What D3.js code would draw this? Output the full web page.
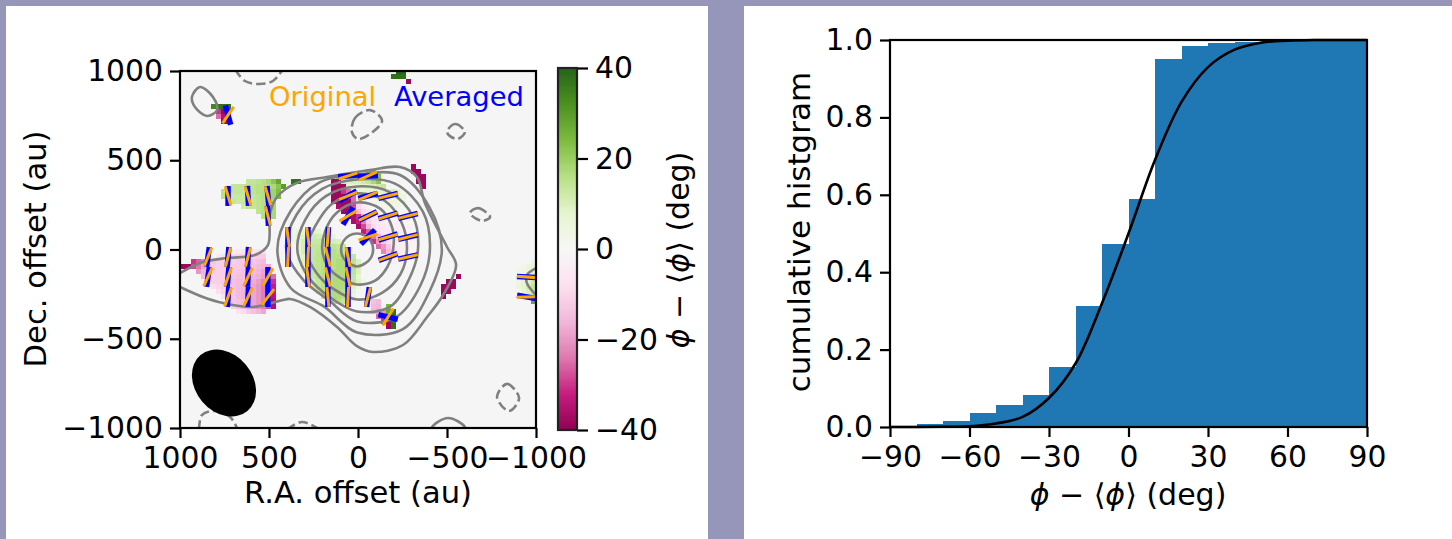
<!DOCTYPE html>
<html><head><meta charset="utf-8">
<script src="https://cdn.jsdelivr.net/npm/d3@7"></script>
<style>html,body{margin:0;padding:0;background:#fff;overflow:hidden}svg{display:block}text{font-family:"DejaVu Sans";fill:#000}</style>
</head><body><svg id="c" width="1452" height="539"></svg>
<script>
// ---- data ----
const piyg = ["#8e0152","#c51b7d","#de77ae","#f1b6da","#fde0ef","#f7f7f7","#e6f5d0","#b8e186","#7fbc41","#4d9221","#276419"];
const mapTicks = [1000,500,0,-500,-1000];
const barTicks = [40,20,0,-20,-40];
const histXTicks = [-90,-60,-30,0,30,60,90];
const histYTicks = [0,0.2,0.4,0.6,0.8,1.0];
// heat rows: [grid row, first grid column, deviation in degrees]
const heatRows = [
[0,43,[40,40]],[1,42,[38,38,38]],[2,45,[-38]],
[7,6,[34,38,38,38]],[8,7,[-30,-38,-38]],[9,7,[-25,-35,-38]],[10,8,[-38,-38]],
[22,13,[14,14,15,16,18,22,28]],[22,22,[38,38]],
[23,10,[14,14,14,15,15,16,16,17,18,22,30]],
[24,8,[16,14,14,14,14,14,15,16,16,17,19,24]],
[25,8,[16,14,13,13,13,13,14,15,16,17,19,24]],
[26,10,[14,13,13,14,14,15,16,17,18]],
[27,12,[12,14,14,15,16,17,18]],[28,15,[15,16,17,18]],[29,16,[16,17,18]],
[32,22,[4,7,8,9,9,8]],[33,22,[5,8,9,11,12,11,9,8,6]],[34,22,[5,8,11,12,13,13,13,12,11,10]],
[35,23,[7,11,13,14,14,14,14,15,14,13]],[36,23,[7,11,13,14,15,15,15,16,15,14]],
[37,23,[5,9,12,14,15,16,16,16,16,16,15,14]],[38,23,[5,9,12,14,15,16,16,16,17,17,16,15,10]],
[39,23,[4,8,12,14,15,16,16,16,17,17,17,16,11]],[40,24,[8,12,14,15,16,17,17,17,17,17,15,10]],
[41,25,[11,13,15,16,17,17,17,17,17,14,8]],[42,26,[12,14,16,17,17,17,17,17,14,9,4]],
[43,26,[11,14,16,17,17,17,17,14,9,4]],[44,27,[13,15,17,17,17,16,12,7]],
[45,28,[14,16,17,17,16,10,5]],[46,29,[15,16,16,14,8]],
[36,10,[-5,-6,-6,-7,-7,-8,-8]],[37,7,[-5,-7,-9,-10,-10,-11,-11,-11,-12,-12]],
[38,2,[-30,-26,-22,-16,-13,-11,-11,-11,-11,-12,-12,-13,-13,-14,-15]],
[39,0,[-38,-38,-28,-24,-18,-15,-12,-11,-11,-11,-12,-12,-13,-13,-14,-15,-16,-17]],
[40,3,[-20,-16,-14,-12,-11,-11,-11,-12,-13,-14,-14,-15,-16,-18,-20]],
[41,4,[-15,-13,-11,-11,-11,-12,-13,-14,-14,-15,-16,-17,-19,-21,-25]],
[42,5,[-11,-11,-11,-12,-13,-14,-15,-15,-16,-17,-19,-22,-26,-30]],
[43,6,[-9,-10,-11,-13,-14,-15,-16,-17,-18,-20,-23,-26,-32]],
[44,7,[-8,-10,-12,-13,-15,-16,-17,-18,-20,-23,-26,-32]],
[45,8,[-8,-11,-13,-15,-16,-17,-18,-20,-23,-27,-34]],
[46,9,[-10,-13,-14,-15,-17,-18,-20,-23,-27,-35]],
[47,10,[-11,-13,-15,-17,-18,-20,-23,-27,-35]],
[48,11,[-7,-9,-12,-14,-16,-18]],
[20,37,[25,25]],[21,31,[18,18,18,18,18,20,20,22,24]],
[22,30,[-38,-38,12,10,10,10,12,14,18,22]],[23,30,[-38,-38,-38,8,7,7,8,9,10,12,14]],
[24,30,[-38,-38,-30,-25,7,6,6,7,8,8,9,10,10,8]],
[25,30,[-38,-38,-38,-30,-25,4,4,4,5,6,6,7,7,6,5]],
[26,30,[-38,-38,-38,-38,-25,-3,-2,2,3,4,4,5,5,4,3]],
[27,31,[-36,-38,-36,-28,-10,-5,-2,1,2,3,3,3,3,2,2]],
[28,32,[-38,-38,-28,-14,-9,-5,-3,-2,1,1,2,2,2,1,1]],
[29,33,[-38,-36,-30,-16,-9,-6,-4,-3,-2,-1,-1,1,1,1]],
[30,34,[-36,-32,-22,-11,-7,-5,-4,-3,-2,-2,-1,-1,1]],
[31,35,[-36,-28,-16,-9,-6,-5,-4,-3,-3,-2,-2,-1]],
[32,36,[-32,-26,-15,-8,-6,-5,-4,-3,-3,-2,-1]],
[33,37,[-30,-24,-16,-8,-5,-4,-4,-3,-2,-1]],
[34,38,[-30,-20,-13,-9,-5,-4,-3,-2,-1]],
[35,39,[-25,-20,-13,-7,-4,-3,-2,-1]],
[36,40,[-22,-15,-9,-5,-3,-2,-1]],[37,41,[-12,-8,-4,-2,-1]],[38,42,[-4,-2,-1]],
[46,38,[-14,-15]],[47,38,[-15,-16]],[47,41,[25]],[48,38,[-16,-18,-20,28,38]],
[49,39,[-25,-28,-38,38]],[50,40,[-30,-38,38]],[51,41,[-38,38]],
[19,46,[-38]],[20,46,[-38,-38]],[21,47,[-38,-38]],[22,47,[-38,-38]],[23,48,[-38]],
[41,55,[-38]],[42,53,[-38,-38]],[43,52,[-38,-38,-38]],[44,52,[-38,-38]],[45,52,[-38]],
[38,70,[5]],[39,68,[3,5,7]],[40,67,[3,4,6,9]],[41,66,[2,4,6,8,10]],[42,67,[4,7,9,12]],
[43,67,[5,8,11,14]],[44,68,[7,10,14]],[45,68,[6,10,16]],[46,70,[28]]
];
// polarisation segments: [R.A., Dec., averaged angle, original angle]
const vectors = [
[730,753,-15,34],
[730,300,0,-17],[618,300,-3,-17],[506,300,-5,-17],[506,188,-3,-15],
[843,-42,8,22],[730,-42,5,15],[618,-42,3,15],
[843,-154,8,25],[730,-154,5,20],[618,-154,3,25],[506,-154,0,30],
[730,-266,4,20],[618,-266,3,25],[506,-266,0,38],
[393,70,0,-8],[393,-42,0,3],[281,70,0,-8],[281,-42,0,3],[281,-154,0,-8],
[169,70,3,5],[169,-42,0,-14],[169,-154,0,-14],[169,-266,0,-6],
[56,-42,0,-12],[56,-154,0,-12],[56,-266,0,3],[-56,-266,8,15],
[-169,-378,104,32],
[56,412,85,72],[-56,412,87,66],
[56,300,60,68],[-56,300,76,67],[-169,300,76,76],
[56,188,30,59],[-56,188,65,64],[-169,188,74,72],[-281,188,76,76],
[-56,70,44,72],[-169,70,72,74],[-281,70,77,76],
[-169,-42,70,70],[-281,-42,78,77],
[-949,-154,93,94],[-949,-266,100,88]
];
// nested contours as radii (au) every 30 degrees round the peak
const contourAngles = [0,30,60,90,120,150,180,210,240,270,300,330];
const contourRadii = [
[90,90,90,90,90,90,90,90,90,95,90,90],
[202,230,263,263,235,207,196,190,185,196,202,196],
[280,291,314,314,291,269,286,263,258,280,280,280],
[342,364,370,353,347,336,336,314,308,347,370,336],
[409,426,426,392,392,392,398,347,325,403,437,409],
[476,470,482,420,431,431,448,431,370,465,515,470]
];
const outerContour = [[1000,-210],[871,-266],[758,-300],[590,-322],[421,-283],[382,-277],[270,-322],[118,-434],[6,-541],[-84,-574],[-253,-535],[-388,-378],[-478,-255],[-551,-87],[-500,14],[-376,260],[-331,406],[-236,462],[-67,445],[174,406],[343,373],[455,294],[494,204],[506,25],[579,-31],[736,-48],[871,-70],[1000,-132]];
const solidOpen = [
[[-416,-1030],[-416,-995],[-506,-944],[-601,-995],[-601,-1030]],
[[-1000,-104],[-949,-143],[-949,-188],[-1000,-255]]
];
const solidClosed = [[[933,854],[888,910],[815,854],[792,781],[848,748],[916,798]]];
const dashedClosed = [
[[34,658],[17,737],[-67,781],[-135,725],[-96,669],[0,619]],
[[-500,658],[-545,703],[-601,658],[-556,619]],
[[-629,204],[-674,232],[-742,182],[-697,160]],
[[-781,-826],[-837,-753],[-905,-832],[-848,-905]]
];
const dashedOpen = [
[[691,1010],[635,944],[551,927],[478,944],[421,1010]],
[[399,-1010],[315,-966],[213,-1010]],
[[893,-1010],[876,-927],[803,-905],[719,-938],[680,-1000]]
];
const beam = {ra:753,dec:-748,major:205,minor:160,angle:50};
// cumulative histogram
const binEdges = [-90,-80,-70,-60,-50,-40,-30,-20,-10,0,10,20,30,40,50,60,70,80,90];
const cumHist = [0.002,0.007,0.015,0.035,0.056,0.082,0.154,0.312,0.472,0.589,0.951,0.984,0.991,0.994,0.997,1,1,1];
const curveX = [-90,-80,-70,-60,-50,-40,-30,-20,-10,0,10,20,30,40,50,60,70,80,90];
const curveY = [0,0,0.0005,0.002,0.009,0.026,0.075,0.164,0.32,0.5,0.69,0.84,0.93,0.975,0.993,0.998,1,1,1];

// ---- drawing ----
const svg = d3.select("#c");
const FS = 29.8, TS = 30.6, PS = 30;
svg.append("rect").attr("width",1452).attr("height",539).attr("fill","#9696ba");
svg.append("rect").attr("x",6).attr("y",6).attr("width",702).attr("height",533).attr("fill","#fff");
svg.append("rect").attr("x",744).attr("y",6).attr("width",708).attr("height",533).attr("fill","#fff");
const minus = s => String(s).replace("-","\u2212");
function styleAxis(g,w){g.selectAll("path,line").attr("stroke","#000").attr("stroke-width",w);g.selectAll("text").attr("font-size",FS).attr("font-family","DejaVu Sans").attr("fill","#000");}

const L = {l:180,r:536,t:71,b:428};
const x = d3.scaleLinear([1000,-1000],[L.l,L.r]);
const y = d3.scaleLinear([1000,-1000],[L.t,L.b]);
const cscale = d3.scaleLinear(d3.range(11).map(i=>-40+8*i),piyg).clamp(true);
svg.append("defs").append("clipPath").attr("id","ax").append("rect").attr("x",L.l).attr("y",L.t).attr("width",L.r-L.l).attr("height",L.b-L.t);
svg.append("rect").attr("x",L.l).attr("y",L.t).attr("width",L.r-L.l).attr("height",L.b-L.t).attr("fill","#f5f5f5");
const plot = svg.append("g").attr("clip-path","url(#ax)");

// grid columns and rows of the map in au
const cellRa = 2000/71.2, cellDec = 2000/71.4, ra0 = 994, dec0 = 1011;
const cells = heatRows.flatMap(([r,c,v])=>v.map((d,i)=>({r,c:c+i,d})));
plot.append("g").attr("shape-rendering","crispEdges").selectAll("rect").data(cells).join("rect")
 .attr("x",d=>x(ra0-d.c*cellRa)).attr("y",d=>y(dec0-d.r*cellDec))
 .attr("width",x(ra0-cellRa)-x(ra0)).attr("height",y(dec0-cellDec)-y(dec0))
 .attr("fill",d=>cscale(d.d));

const lineXY = d3.line().x(d=>x(d[0])).y(d=>y(d[1]));
const gc = plot.append("g").attr("fill","none").attr("stroke","#808080").attr("stroke-width",2.6);
const peak = [5,0];
contourRadii.forEach(rad=>{
  const pts = rad.map((r,i)=>{const a=contourAngles[i]*Math.PI/180;return [peak[0]-r*Math.cos(a),peak[1]+r*Math.sin(a)];});
  gc.append("path").attr("d",lineXY.curve(d3.curveCatmullRomClosed)(pts));
});
gc.append("path").attr("d",lineXY.curve(d3.curveCatmullRom)(outerContour));
solidOpen.forEach(p=>gc.append("path").attr("d",lineXY.curve(d3.curveCatmullRom)(p)));
solidClosed.forEach(p=>gc.append("path").attr("d",lineXY.curve(d3.curveCatmullRomClosed)(p)));
const gd = plot.append("g").attr("fill","none").attr("stroke","#808080").attr("stroke-width",2.6).attr("stroke-dasharray","9.5,4");
dashedClosed.forEach(p=>gd.append("path").attr("d",lineXY.curve(d3.curveCatmullRomClosed)(p)));
dashedOpen.forEach(p=>gd.append("path").attr("d",lineXY.curve(d3.curveCatmullRom)(p)));

function seg(sel,idx,w,col){
  const h=10;
  sel.append("g").selectAll("line").data(vectors).join("line")
   .attr("x1",d=>x(d[0])+h*Math.sin(d[idx]*Math.PI/180)).attr("y1",d=>y(d[1])-h*Math.cos(d[idx]*Math.PI/180))
   .attr("x2",d=>x(d[0])-h*Math.sin(d[idx]*Math.PI/180)).attr("y2",d=>y(d[1])+h*Math.cos(d[idx]*Math.PI/180))
   .attr("stroke",col).attr("stroke-width",w);
}
seg(plot,2,5.5,"#0000ff");
seg(plot,3,3,"#ffa500");

plot.append("ellipse").attr("cx",x(beam.ra)).attr("cy",y(beam.dec))
 .attr("rx",Math.abs(x(beam.major)-x(0))).attr("ry",Math.abs(y(beam.minor)-y(0)))
 .attr("transform",`rotate(${beam.angle} ${x(beam.ra)} ${y(beam.dec)})`).attr("fill","#000");

svg.append("text").attr("x",269).attr("y",106).attr("font-size",27.4).style("fill","#ffa500").text("Original");
svg.append("text").attr("x",394).attr("y",106).attr("font-size",27.4).style("fill","#0000ff").text("Averaged");

const ax1 = svg.append("g").attr("transform",`translate(0,${L.b})`).call(d3.axisBottom(x).tickValues(mapTicks).tickSize(10).tickPadding(9).tickFormat(minus));
styleAxis(ax1,2.2); ax1.select(".domain").remove();
const ay1 = svg.append("g").attr("transform",`translate(${L.l},0)`).call(d3.axisLeft(y).tickValues(mapTicks).tickSize(10).tickPadding(7).tickFormat(minus));
styleAxis(ay1,2.2); ay1.select(".domain").remove();
svg.append("rect").attr("x",L.l).attr("y",L.t).attr("width",L.r-L.l).attr("height",L.b-L.t).attr("fill","none").attr("stroke","#000").attr("stroke-width",2.2);
svg.append("text").attr("x",358).attr("y",503).attr("text-anchor","middle").attr("font-size",TS).text("R.A. offset (au)");
svg.append("text").attr("transform","translate(46,249) rotate(-90)").attr("text-anchor","middle").attr("font-size",TS).text("Dec. offset (au)");

// colourbar
const B = {l:558,r:577,t:68,b:430};
const cy = d3.scaleLinear([40,-40],[B.t,B.b]);
svg.append("g").attr("shape-rendering","crispEdges").selectAll("rect").data(d3.range(-40,40,0.25)).join("rect")
 .attr("x",B.l).attr("width",B.r-B.l).attr("y",d=>cy(d+0.25)).attr("height",cy(0)-cy(0.25)+1).attr("fill",d=>cscale(d+0.125));
const cax = svg.append("g").attr("transform",`translate(${B.r},0)`).call(d3.axisRight(cy).tickValues(barTicks).tickSize(11).tickPadding(7).tickFormat(minus));
styleAxis(cax,2.2); cax.select(".domain").remove();
svg.append("rect").attr("x",B.l).attr("y",B.t).attr("width",B.r-B.l).attr("height",B.b-B.t).attr("fill","none").attr("stroke","#222").attr("stroke-width",2.2);
function phiLabel(t){
  t.append("tspan").attr("font-style","italic").text("\u03d5");
  t.append("tspan").text(" \u2212 \u27e8");
  t.append("tspan").attr("font-style","italic").text("\u03d5");
  t.append("tspan").text("\u27e9 (deg)");
}
phiLabel(svg.append("text").attr("transform","translate(689,250) rotate(-90)").attr("text-anchor","middle").attr("font-size",PS));

// histogram
const R = {l:890,r:1367,t:40,b:427};
const hx = d3.scaleLinear([-90,90],[R.l,R.r]);
const hy = d3.scaleLinear([0,1],[R.b,R.t]);
svg.append("g").attr("shape-rendering","crispEdges").selectAll("rect").data(cumHist).join("rect")
 .attr("x",(d,i)=>hx(binEdges[i])).attr("width",(d,i)=>hx(binEdges[i+1])-hx(binEdges[i])+1)
 .attr("y",d=>hy(d)).attr("height",d=>hy(0)-hy(d)).attr("fill","#1f77b4");
svg.append("path").attr("d",d3.line().x((d,i)=>hx(curveX[i])).y(d=>hy(d)).curve(d3.curveCatmullRom)(curveY))
 .attr("fill","none").attr("stroke","#000").attr("stroke-width",2.6);
const ax2 = svg.append("g").attr("transform",`translate(0,${R.b})`).call(d3.axisBottom(hx).tickValues(histXTicks).tickSize(10).tickPadding(9).tickFormat(minus));
styleAxis(ax2,2.2); ax2.select(".domain").remove();
const ay2 = svg.append("g").attr("transform",`translate(${R.l},0)`).call(d3.axisLeft(hy).tickValues(histYTicks).tickSize(10).tickPadding(7).tickFormat(d3.format(".1f")));
styleAxis(ay2,2.2); ay2.select(".domain").remove();
svg.append("rect").attr("x",R.l).attr("y",R.t).attr("width",R.r-R.l).attr("height",R.b-R.t).attr("fill","none").attr("stroke","#000").attr("stroke-width",2.2);
svg.append("text").attr("transform","translate(810,232) rotate(-90)").attr("text-anchor","middle").attr("font-size",31).text("cumulative histgram");
phiLabel(svg.append("text").attr("x",1128).attr("y",505).attr("text-anchor","middle").attr("font-size",PS));
</script></body></html>
